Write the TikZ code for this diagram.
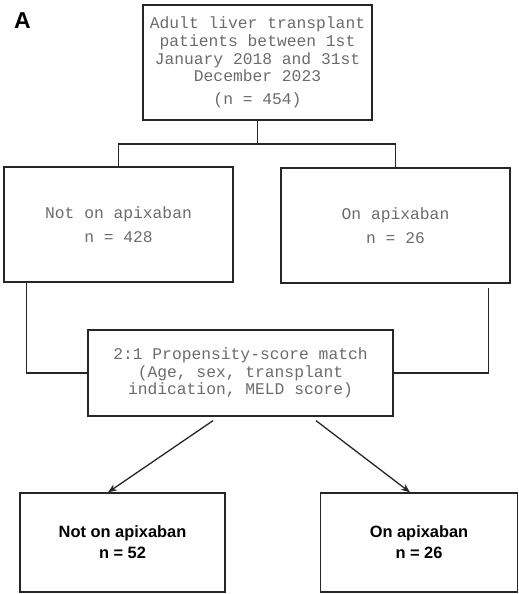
\documentclass[tikz,border=0pt]{standalone}
\usepackage{fontspec}
\setmainfont{Liberation Sans}
\setmonofont{Liberation Mono}
\usetikzlibrary{arrows.meta}
\definecolor{txtgrey}{gray}{0.42}
\definecolor{linegrey}{gray}{0.15}
\tikzset{
  box/.style={draw=linegrey, line width=1.3pt, align=center, inner sep=0pt},
  monotxt/.style={text=txtgrey, font=\ttfamily\fontsize{16.3}{17.7}\selectfont},
  boldtxt/.style={font=\bfseries\fontsize{16.4}{21}\selectfont},
  link/.style={draw=linegrey, line width=1.3pt}
}
\begin{document}
\begin{tikzpicture}[x=1pt,y=-1pt]
\useasboundingbox (0,0) rectangle (519,594);
\node[font=\bfseries\fontsize{23}{23}\selectfont] (lbl) at (22.5,21) {A};
\node[box, monotxt, minimum width=229pt, minimum height=115pt] (all) at (257.5,62.5)
  {Adult liver transplant\\patients between 1st\\January 2018 and 31st\\December 2023\\[5pt](n = 454)};
\node[box, monotxt, minimum width=229pt, minimum height=115pt] (noapx) at (118.5,224.5)
  {Not on apixaban\\[6pt]n = 428};
\node[box, monotxt, minimum width=229pt, minimum height=115pt] (apx) at (395.5,225.5)
  {On apixaban\\[6pt]n = 26};
\node[box, monotxt, minimum width=305pt, minimum height=86pt] (match) at (240.5,373)
  {2:1 Propensity-score match\\(Age, sex, transplant\\indication, MELD score)};
\node[box, boldtxt, minimum width=205pt, minimum height=99pt] (noapx2) at (122.5,542.5)
  {Not on apixaban\\n = 52};
\node[box, boldtxt, minimum width=197pt, minimum height=99pt] (apx2) at (419,542.5)
  {On apixaban\\n = 26};
\coordinate (split) at (257.5,144);

\path[link] (all) -- (split);
\path[link] (split) -| (noapx.north);
\path[link] (split) -| (apx.north);
\path[link] ([xshift=23pt]noapx.south west) |- (match.west);
\path[link] ([xshift=-22pt,yshift=-4pt]apx.south east) |- (match.east);

\path[link,-{Stealth[length=9pt,width=7pt]}] ([xshift=-27.5pt,yshift=-4pt]match.south) -- ([xshift=-14.5pt]noapx2.north);
\path[link,-{Stealth[length=9pt,width=7pt]}] ([xshift=75.5pt,yshift=-4pt]match.south) -- ([xshift=-9pt]apx2.north);
\end{tikzpicture}
\end{document}
